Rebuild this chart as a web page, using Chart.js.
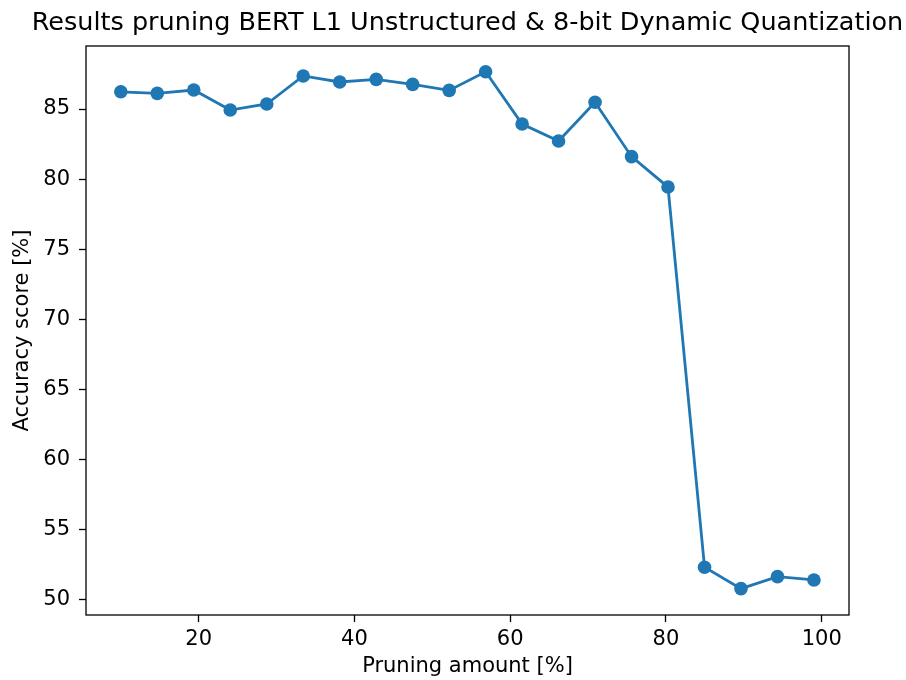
<!DOCTYPE html>
<html>
<head>
<meta charset="utf-8">
<script src="https://cdn.jsdelivr.net/npm/chart.js@4"></script>
<style>
  html, body { margin: 0; padding: 0; background: #ffffff; }
  #wrap { width: 906px; height: 680px; }
</style>
</head>
<body>
<div id="wrap"><canvas id="c" width="906" height="680"></canvas></div>
<script>
// Pruning amount (%) for each run and the resulting accuracy (%)
const pruningAmount = [10.00, 14.68, 19.37, 24.05, 28.74, 33.42, 38.11, 42.79, 47.47, 52.16,
                       56.84, 61.53, 66.21, 70.89, 75.58, 80.26, 84.95, 89.63, 94.32, 99.00];
const accuracy = [86.23, 86.12, 86.36, 84.93, 85.36, 87.36, 86.93, 87.12, 86.76, 86.33,
                  87.66, 83.93, 82.72, 85.48, 81.60, 79.43, 52.29, 50.76, 51.62, 51.38];

const xTicks = [20, 40, 60, 80, 100];
const yTicks = [50, 55, 60, 65, 70, 75, 80, 85];

const titleText = 'Results pruning BERT L1 Unstructured & 8-bit Dynamic Quantization';
const xLabel = 'Pruning amount [%]';
const yLabel = 'Accuracy score [%]';

const FONT = "'DejaVu Sans', sans-serif";
const INK = '#000000';
const BLUE = '#1f77b4';

// Title centred over the axes, plus a full frame around the plot area
const framePlugin = {
  id: 'frame',
  afterDraw(chart) {
    const { ctx, chartArea: a } = chart;
    ctx.save();
    ctx.strokeStyle = INK;
    ctx.lineWidth = 1.3;
    ctx.strokeRect(a.left, a.top, a.right - a.left, a.bottom - a.top);
    ctx.fillStyle = INK;
    ctx.font = '25.5px ' + FONT;
    ctx.textAlign = 'center';
    ctx.textBaseline = 'alphabetic';
    ctx.fillText(titleText, (a.left + a.right) / 2, 30);
    ctx.restore();
  }
};

const points = pruningAmount.map((x, i) => ({ x, y: accuracy[i] }));

new Chart(document.getElementById('c'), {
  type: 'line',
  data: {
    datasets: [{
      data: points,
      borderColor: BLUE,
      backgroundColor: BLUE,
      borderWidth: 2.8,
      pointRadius: 6.8,
      pointHoverRadius: 6.8,
      pointBackgroundColor: BLUE,
      pointBorderWidth: 0,
      tension: 0,
      fill: false
    }]
  },
  options: {
    responsive: false,
    devicePixelRatio: 1,
    animation: false,
    events: [],
    layout: { padding: { top: 46, right: 57, bottom: 0, left: 0 } },
    plugins: {
      legend: { display: false },
      title: { display: false },
      tooltip: { enabled: false }
    },
    scales: {
      x: {
        type: 'linear',
        min: 5.53,
        max: 103.5,
        afterBuildTicks(axis) { axis.ticks = xTicks.map(v => ({ value: v })); },
        afterFit(axis) { axis.height = 65; },
        ticks: {
          font: { family: FONT, size: 21 },
          color: INK,
          padding: 5,
          maxRotation: 0,
          autoSkip: false
        },
        grid: {
          display: true,
          drawOnChartArea: false,
          drawTicks: true,
          tickLength: 7,
          tickColor: INK,
          tickWidth: 1.3
        },
        border: { display: false },
        title: {
          display: true,
          text: xLabel,
          font: { family: FONT, size: 21, lineHeight: 1.2 },
          color: INK,
          padding: { top: 0, bottom: 1 }
        }
      },
      y: {
        type: 'linear',
        min: 48.88,
        max: 89.5,
        afterBuildTicks(axis) { axis.ticks = yTicks.map(v => ({ value: v })); },
        afterFit(axis) { axis.width = 86; },
        ticks: {
          font: { family: FONT, size: 21 },
          color: INK,
          padding: 9,
          autoSkip: false
        },
        grid: {
          display: true,
          drawOnChartArea: false,
          drawTicks: true,
          tickLength: 7,
          tickColor: INK,
          tickWidth: 1.3
        },
        border: { display: false },
        title: {
          display: true,
          text: yLabel,
          font: { family: FONT, size: 21, lineHeight: 1.2 },
          color: INK,
          padding: { top: 10, bottom: 0 }
        }
      }
    }
  },
  plugins: [framePlugin]
});
</script>
</body>
</html>
